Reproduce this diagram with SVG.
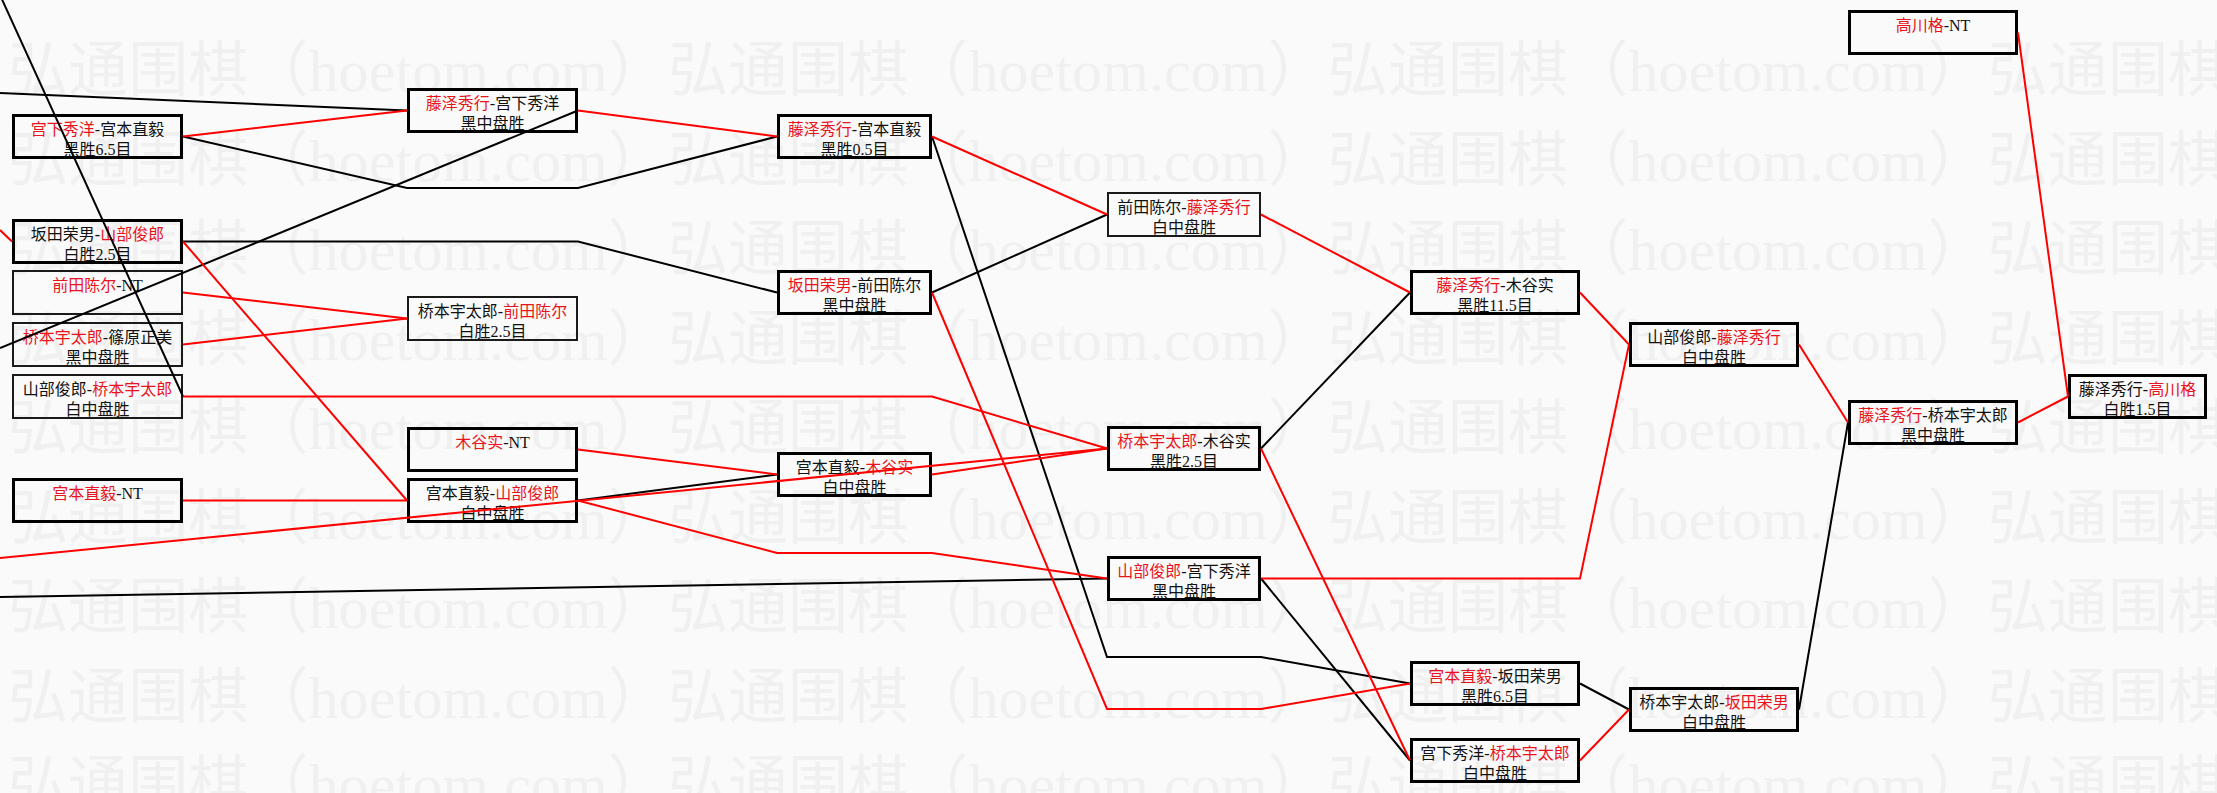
<svg xmlns="http://www.w3.org/2000/svg" width="2217" height="793" viewBox="0 0 2217 793">
<style>
.bg{fill:#fafafa}
.wm text{font-family:"Liberation Serif","Noto Sans CJK SC",serif;font-size:60px;fill:#f0f0f0}
.n rect{fill:none;stroke:#000;stroke-width:3}
.n.t rect{stroke:#1a1a1a;stroke-width:2}
.n text{font-family:"Liberation Serif","Noto Sans CJK SC",serif;font-size:16px;fill:#111;text-anchor:middle}
.n .r{fill:#e8141c}
.c path{fill:none;stroke-width:2}
.c .k{stroke:#000}
.c .rd{stroke:#f00}
</style>
<rect class="bg" x="0" y="0" width="2217" height="793"/>
<g class="wm" id="watermark">
<text x="8" y="91" textLength="2220" lengthAdjust="spacing">弘通围棋（hoetom.com）弘通围棋（hoetom.com）弘通围棋（hoetom.com）弘通围棋</text>
<text x="8" y="180.5" textLength="2220" lengthAdjust="spacing">弘通围棋（hoetom.com）弘通围棋（hoetom.com）弘通围棋（hoetom.com）弘通围棋</text>
<text x="8" y="270" textLength="2220" lengthAdjust="spacing">弘通围棋（hoetom.com）弘通围棋（hoetom.com）弘通围棋（hoetom.com）弘通围棋</text>
<text x="8" y="359.5" textLength="2220" lengthAdjust="spacing">弘通围棋（hoetom.com）弘通围棋（hoetom.com）弘通围棋（hoetom.com）弘通围棋</text>
<text x="8" y="449" textLength="2220" lengthAdjust="spacing">弘通围棋（hoetom.com）弘通围棋（hoetom.com）弘通围棋（hoetom.com）弘通围棋</text>
<text x="8" y="538.5" textLength="2220" lengthAdjust="spacing">弘通围棋（hoetom.com）弘通围棋（hoetom.com）弘通围棋（hoetom.com）弘通围棋</text>
<text x="8" y="628" textLength="2220" lengthAdjust="spacing">弘通围棋（hoetom.com）弘通围棋（hoetom.com）弘通围棋（hoetom.com）弘通围棋</text>
<text x="8" y="717.5" textLength="2220" lengthAdjust="spacing">弘通围棋（hoetom.com）弘通围棋（hoetom.com）弘通围棋（hoetom.com）弘通围棋</text>
<text x="8" y="805" textLength="2220" lengthAdjust="spacing">弘通围棋（hoetom.com）弘通围棋（hoetom.com）弘通围棋（hoetom.com）弘通围棋</text>
</g>
<g id="nodes">
<g id="n-a1" class="n"><rect x="13.5" y="115.5" width="168" height="42"/><text x="97.5" y="134.5"><tspan class="r">宫下秀洋</tspan>-宫本直毅</text><text x="97.5" y="154.5">黑胜6.5目</text></g>
<g id="n-a2" class="n"><rect x="13.5" y="220.5" width="168" height="42"/><text x="97.5" y="239.5">坂田荣男-<tspan class="r">山部俊郎</tspan></text><text x="97.5" y="259.5">白胜2.5目</text></g>
<g id="n-a3" class="n t"><rect x="13" y="271" width="169" height="43"/><text x="97.5" y="290.5"><tspan class="r">前田陈尔</tspan>-NT</text></g>
<g id="n-a4" class="n t"><rect x="13" y="323" width="169" height="43"/><text x="97.5" y="342.5"><tspan class="r">桥本宇太郎</tspan>-篠原正美</text><text x="97.5" y="362.5">黑中盘胜</text></g>
<g id="n-a5" class="n t"><rect x="13" y="375" width="169" height="43"/><text x="97.5" y="394.5">山部俊郎-<tspan class="r">桥本宇太郎</tspan></text><text x="97.5" y="414.5">白中盘胜</text></g>
<g id="n-a6" class="n"><rect x="13.5" y="479.5" width="168" height="42"/><text x="97.5" y="498.5"><tspan class="r">宫本直毅</tspan>-NT</text></g>
<g id="n-b1" class="n"><rect x="408.5" y="89.5" width="168" height="42"/><text x="492.5" y="108.5"><tspan class="r">藤泽秀行</tspan>-宫下秀洋</text><text x="492.5" y="128.5">黑中盘胜</text></g>
<g id="n-b2" class="n t"><rect x="408" y="297" width="169" height="43"/><text x="492.5" y="316.5">桥本宇太郎-<tspan class="r">前田陈尔</tspan></text><text x="492.5" y="336.5">白胜2.5目</text></g>
<g id="n-b3" class="n"><rect x="408.5" y="428.5" width="168" height="42"/><text x="492.5" y="447.5"><tspan class="r">木谷实</tspan>-NT</text></g>
<g id="n-b4" class="n"><rect x="408.5" y="479.5" width="168" height="42"/><text x="492.5" y="498.5">宫本直毅-<tspan class="r">山部俊郎</tspan></text><text x="492.5" y="518.5">白中盘胜</text></g>
<g id="n-c1" class="n"><rect x="778.5" y="115.5" width="152" height="42"/><text x="854.5" y="134.5"><tspan class="r">藤泽秀行</tspan>-宫本直毅</text><text x="854.5" y="154.5">黑胜0.5目</text></g>
<g id="n-c2" class="n"><rect x="778.5" y="271.5" width="152" height="42"/><text x="854.5" y="290.5"><tspan class="r">坂田荣男</tspan>-前田陈尔</text><text x="854.5" y="310.5">黑中盘胜</text></g>
<g id="n-c3" class="n"><rect x="778.5" y="453.5" width="152" height="42"/><text x="854.5" y="472.5">宫本直毅-<tspan class="r">木谷实</tspan></text><text x="854.5" y="492.5">白中盘胜</text></g>
<g id="n-d1" class="n t"><rect x="1108" y="193" width="152" height="43"/><text x="1184" y="212.5">前田陈尔-<tspan class="r">藤泽秀行</tspan></text><text x="1184" y="232.5">白中盘胜</text></g>
<g id="n-d2" class="n"><rect x="1108.5" y="427.5" width="151" height="42"/><text x="1184" y="446.5"><tspan class="r">桥本宇太郎</tspan>-木谷实</text><text x="1184" y="466.5">黑胜2.5目</text></g>
<g id="n-d3" class="n"><rect x="1108.5" y="557.5" width="151" height="42"/><text x="1184" y="576.5"><tspan class="r">山部俊郎</tspan>-宫下秀洋</text><text x="1184" y="596.5">黑中盘胜</text></g>
<g id="n-e1" class="n"><rect x="1411.5" y="271.5" width="167" height="42"/><text x="1495" y="290.5"><tspan class="r">藤泽秀行</tspan>-木谷实</text><text x="1495" y="310.5">黑胜11.5目</text></g>
<g id="n-e2" class="n"><rect x="1411.5" y="662.5" width="167" height="42"/><text x="1495" y="681.5"><tspan class="r">宫本直毅</tspan>-坂田荣男</text><text x="1495" y="701.5">黑胜6.5目</text></g>
<g id="n-e3" class="n"><rect x="1411.5" y="739.5" width="167" height="42"/><text x="1495" y="758.5">宫下秀洋-<tspan class="r">桥本宇太郎</tspan></text><text x="1495" y="778.5">白中盘胜</text></g>
<g id="n-f1" class="n"><rect x="1630.5" y="323.5" width="167" height="42"/><text x="1714" y="342.5">山部俊郎-<tspan class="r">藤泽秀行</tspan></text><text x="1714" y="362.5">白中盘胜</text></g>
<g id="n-f2" class="n"><rect x="1630.5" y="688.5" width="167" height="42"/><text x="1714" y="707.5">桥本宇太郎-<tspan class="r">坂田荣男</tspan></text><text x="1714" y="727.5">白中盘胜</text></g>
<g id="n-g1" class="n"><rect x="1849.5" y="11.5" width="167" height="42"/><text x="1933" y="30.5"><tspan class="r">高川格</tspan>-NT</text></g>
<g id="n-g2" class="n"><rect x="1849.5" y="401.5" width="167" height="42"/><text x="1933" y="420.5"><tspan class="r">藤泽秀行</tspan>-桥本宇太郎</text><text x="1933" y="440.5">黑中盘胜</text></g>
<g id="n-h1" class="n"><rect x="2069.5" y="375.5" width="136" height="42"/><text x="2137.5" y="394.5">藤泽秀行-<tspan class="r">高川格</tspan></text><text x="2137.5" y="414.5">白胜1.5目</text></g>
</g>
<g id="connectors" class="c">
<path class="k" d="M0,93 L407,110.5"/>
<path class="k" d="M0,-5 L183,396.5"/>
<path class="k" d="M0,348 L578,110.5"/>
<path class="k" d="M183,136.5 L407,188 L578,188 L777,136.5"/>
<path class="k" d="M183,241.5 L578,241.5 L777,292.5"/>
<path class="k" d="M578,500.5 L777,474.5"/>
<path class="k" d="M0,597 L1107,578.5"/>
<path class="k" d="M932,136.5 L1107,657 L1261,657 L1410,683.5"/>
<path class="k" d="M932,292.5 L1107,214.5"/>
<path class="k" d="M1261,448.5 L1410,292.5"/>
<path class="k" d="M1261,578.5 L1410,760.5"/>
<path class="k" d="M1580,683.5 L1629,709.5"/>
<path class="k" d="M1799,709.5 L1848,422.5"/>
<path class="rd" d="M183,136.5 L407,110.5"/>
<path class="rd" d="M0,230 L12,241.5"/>
<path class="rd" d="M183,241.5 L407,500.5"/>
<path class="rd" d="M183,292.5 L407,318.5"/>
<path class="rd" d="M183,344.5 L407,318.5"/>
<path class="rd" d="M183,396.5 L932,396.5 L1107,448.5"/>
<path class="rd" d="M183,500.5 L407,500.5"/>
<path class="rd" d="M0,558 L1107,448.5"/>
<path class="rd" d="M578,110.5 L777,136.5"/>
<path class="rd" d="M578,449.5 L777,474.5"/>
<path class="rd" d="M578,500.5 L777,553 L932,553 L1107,578.5"/>
<path class="rd" d="M932,136.5 L1107,214.5"/>
<path class="rd" d="M932,292.5 L1107,709 L1261,709 L1410,683.5"/>
<path class="rd" d="M932,474.5 L1107,448.5"/>
<path class="rd" d="M1261,214.5 L1410,292.5"/>
<path class="rd" d="M1261,448.5 L1410,760.5"/>
<path class="rd" d="M1261,578.5 L1580,578.5 L1629,344.5"/>
<path class="rd" d="M1580,292.5 L1629,344.5"/>
<path class="rd" d="M1580,760.5 L1629,709.5"/>
<path class="rd" d="M1799,344.5 L1848,422.5"/>
<path class="rd" d="M2018,422.5 L2068,396.5"/>
<path class="rd" d="M2018,32.5 L2068,396.5"/>
</g>
</svg>
